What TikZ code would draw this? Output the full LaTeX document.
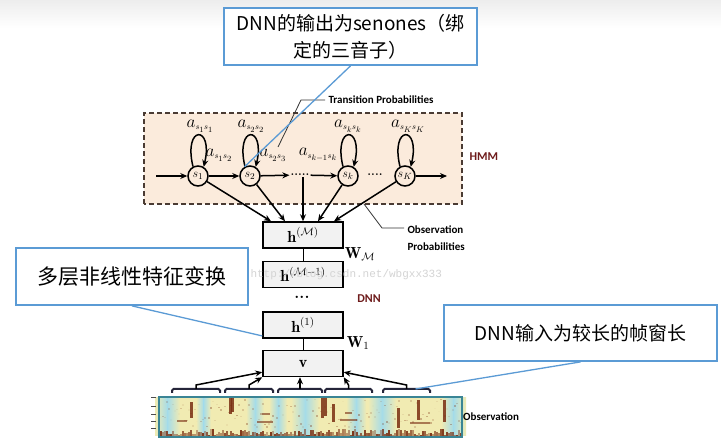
\documentclass[tikz,border=0pt]{standalone}
\usepackage{fontspec}
\setsansfont{Carlito}
\newfontfamily\cjk{Noto Sans CJK SC}
\newfontfamily\wmfont{Liberation Mono}
\usetikzlibrary{arrows.meta,calc}

\definecolor{calloutblue}{HTML}{5B9BD5}
\definecolor{hmmfill}{HTML}{FBEBDC}
\definecolor{hmmedge}{HTML}{4A3B33}
\definecolor{darkred}{HTML}{6E1B1B}
\definecolor{layerfill}{HTML}{F2F2F2}
\definecolor{specyellow}{HTML}{F1EBB2}
\definecolor{speccyan}{HTML}{A6DCE8}
\definecolor{specbrown}{HTML}{7A2E12}
\definecolor{specedge}{HTML}{3A8595}
\definecolor{bracketink}{HTML}{25253A}

\tikzset{
  callout/.style={draw=calloutblue, line width=1.8pt, fill=white, align=center,
    inner sep=0pt, font=\cjk\fontsize{19}{27}\selectfont},
  callline/.style={calloutblue, line width=1.3pt},
  state/.style={circle, draw, line width=1.5pt, minimum size=20pt, inner sep=0pt,
    font=\fontsize{13}{13}\selectfont},
  layer/.style={draw, line width=1.5pt, fill=layerfill, minimum width=80pt,
    minimum height=26pt, inner sep=0pt, font=\fontsize{16}{16}\selectfont},
  harrow/.style={->, line width=1.5pt},
  leader/.style={line width=0.8pt, black!80},
  tag/.style={font=\sffamily\bfseries\fontsize{11}{17}\selectfont},
  redtag/.style={font=\sffamily\bfseries\fontsize{12}{14}\selectfont, text=darkred},
  alabel/.style={font=\fontsize{16}{16}\selectfont, inner sep=0pt},
  bracket/.style={draw=bracketink, line width=2pt, rounded corners=1.5pt},
}
\newcommand{\trans}[2]{a_{\scriptscriptstyle #1#2}}

\begin{document}
\begin{tikzpicture}[x=1pt,y=1pt,>={Stealth[length=7pt,width=6pt]}]
\useasboundingbox (0,0) rectangle (721,442);
\fill[white] (0,0) rectangle (721,442);
\shade[top color=black!7, bottom color=white] (0,414) rectangle (721,442);

% HMM part
\draw[hmmedge, fill=hmmfill, line width=1.6pt, dash pattern=on 5pt off 3pt] (144,238) rectangle (462,329);
\node[redtag, anchor=west] (hmmtag) at (466,285) {HMM};

\node[state] (s1) at (198,266) {$s_1$};
\node[state] (s2) at (250,266) {$s_2$};
\node[state] (sk) at (348,266) {$s_k$};
\node[state] (sK) at (405,266) {$s_K$};
\node[font=\bfseries\fontsize{12}{12}\selectfont, inner sep=1pt] (dotsA) at (300,267) {.....};
\node[font=\bfseries\fontsize{12}{12}\selectfont, inner sep=1pt] (dotsB) at (375,267) {....};
\coordinate (hmmin) at (156,266);
\coordinate (hmmout) at (447,266);

\draw[harrow] (hmmin) -- (s1);
\draw[harrow] (s1) -- (s2);
\draw[harrow] (s2) -- (dotsA);
\draw[harrow] (dotsA) -- (sk);
\draw[harrow] (sK) -- (hmmout);
\foreach \s in {s1,s2,sk,sK}
  \draw[harrow] (\s.118) .. controls +(-10,42) and +(10,42) .. (\s.58);

\node[alabel] (a11) at (200,316) {$\trans{s_1}{s_1}$};
\node[alabel] (a22) at (251,316) {$\trans{s_2}{s_2}$};
\node[alabel] (akk) at (348,316) {$\trans{s_k}{s_k}$};
\node[alabel] (aKK) at (408,316) {$\trans{s_K}{s_K}$};
\node[alabel] (a12) at (219,287) {$\trans{s_1}{s_2}$};
\node[alabel] (a23) at (273,287) {$\trans{s_2}{s_3}$};
\node[alabel] (ak) at (318,287) {$\trans{s_{k-1}}{s_k}$};

\node[tag, anchor=west] (transtag) at (325,342) {Transition Probabilities};
\draw[leader] (transtag.west) -- ++(-24,0) -- ++(-23,-47);

% DNN part
\node[layer] (hM) at (303,207) {$\mathbf{h}^{(\mathcal{M})}$};
\node[layer] (hM1) at (303,167.5) {$\mathbf{h}^{(\mathcal{M}-1)}$};
\node[font=\bfseries\fontsize{16}{16}\selectfont] (vdots) at (302,145) {...};
\node[layer] (h1) at (303,117) {$\mathbf{h}^{(1)}$};
\node[layer] (v) at (303,78.5) {$\mathbf{v}$};
\draw[line width=1pt] (hM) -- (hM1);
\draw[line width=1pt] (h1) -- (v);
\node[font=\fontsize{16}{16}\selectfont] (wM) at (360,188) {$\mathbf{W}_{\mathcal{M}}$};
\node[font=\fontsize{16}{16}\selectfont] (w1) at (358,99) {$\mathbf{W}_1$};
\node[redtag] (dnntag) at (369,143) {DNN};

\draw[harrow] (s1) -- ($(hM.north)+(-32,0)$);
\draw[harrow] (s2) -- ($(hM.north)+(-18,0)$);
\draw[harrow] (hM.north |- dotsA.south) -- (hM.north);
\draw[harrow] (sk) -- ($(hM.north)+(15,0)$);
\draw[harrow] (sK) -- ($(hM.north)+(31,0)$);

\node[tag, anchor=west, align=left] (obstag) at (404,203.5) {Observation\\Probabilities};
\coordinate (hmmfoot) at (364,238);
\draw[leader] (hmmfoot) -- ++(18,-24) -- ++(22,0);

\node[text=black!17, font=\wmfont\fontsize{11}{11}\selectfont, anchor=west] (wmark) at (247,167) {http://blog.csdn.net/wbgxx333};

% observation spectrogram
\fill[specyellow] (159,5) rectangle (462,45);
\foreach \a/\b in {159/176, 200/207, 250/260, 273/283, 295/315, 350/362, 372/392, 445/462}{
  \shade[left color=specyellow, right color=speccyan] (\a-4,6) rectangle ({(\a+\b)/2},44);
  \shade[left color=speccyan, right color=specyellow] ({(\a+\b)/2},6) rectangle (\b+4,44);
}
\pgfmathsetseed{11}
\foreach \x in {160,162,...,460}{
  \pgfmathsetmacro\h{1+6*rnd}
  \pgfmathsetmacro\op{0.35+0.6*rnd}
  \fill[specbrown, opacity=\op] (\x,6) rectangle ++(2,\h);
  \pgfmathsetmacro\yy{14+28*rnd}
  \fill[specbrown, opacity=0.35*rnd] (\x,\yy) rectangle ++(1.5,1.5);
}
\foreach \x/\lo/\hi in {190/24/40, 229/28/45, 231/30/44, 321/24/45, 324/26/44, 332/20/38, 397/14/34, 417/22/42, 443/20/42}
  \fill[specbrown, opacity=0.85] (\x,\lo) rectangle ++(2.5,\hi-\lo);
\foreach \a/\b/\y in {177/187/20, 257/273/19, 340/357/21, 410/430/18, 262/270/27, 345/352/28}
  \fill[specbrown, opacity=0.6] (\a,\y) rectangle (\b,\y+1.5);
\draw[specedge, line width=1.2pt] (159,5) rectangle (462,45);
\foreach \y in {13,20,27,35,44}
  \draw[line width=1pt, black!70] (151,\y) -- (156,\y);
\node[tag, anchor=west, inner sep=1pt] (obslabel) at (462,25) {Observation};

% frame windows
\foreach \l/\r [count=\i] in {172/220, 225/273, 278/322, 325/372, 383/430}{
  \draw[bracket] (\l,49) -- (\l,53) -- (\r,53) -- (\r,49);
  \coordinate (b\i) at ({(\l+\r)/2},53);
}
\coordinate (b5r) at ($(b5)+(9,0)$);
\draw[harrow] (b1) -- ++(0,4) -- (v.192);
\draw[harrow] (b2) -- ++(0,4) -- (v.south west);
\draw[harrow] (b3 |- 0,53) -- (b3 |- v.south);
\draw[harrow] (b4) -- ++(0,4) -- (v.south east);
\draw[harrow] (b5) -- ++(0,4) -- (v.348);

% callouts
\node[callout, minimum width=253pt, minimum height=57pt] (calltop) at (350.5,405.5) {DNN的输出为senones（绑\\定的三音子）};
\node[callout, minimum width=232pt, minimum height=57pt, font=\cjk\fontsize{21}{21}\selectfont] (callleft) at (132,165.5) {多层非线性特征变换};
\node[callout, minimum width=273pt, minimum height=56pt] (callright) at (580.5,109) {DNN输入为较长的帧窗长};
\draw[callline] (calltop.south) -- (s2.120);
\draw[callline] (callleft.south) -- (h1.195);
\draw[callline] (callright.south) -- (b5r);
\end{tikzpicture}
\end{document}
